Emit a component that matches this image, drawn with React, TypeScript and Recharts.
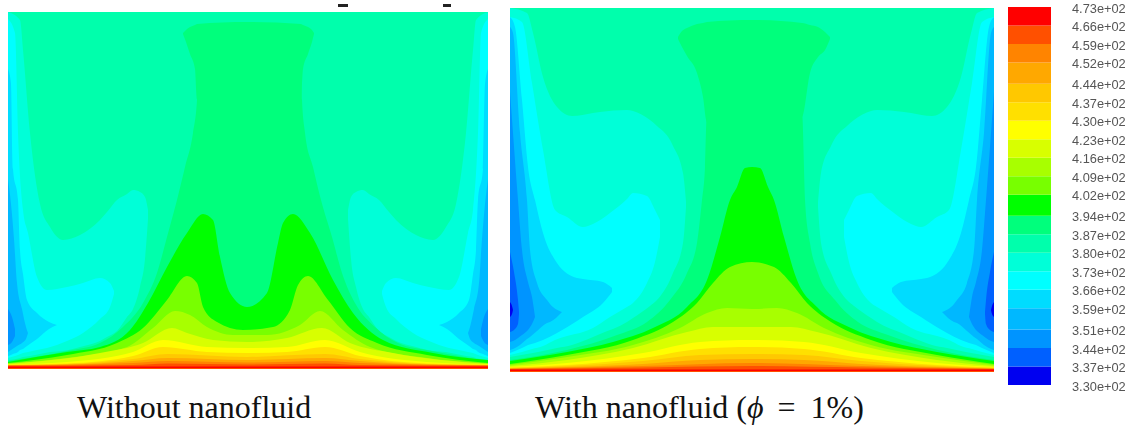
import React from "react";
import { AreaChart, Area, XAxis, YAxis, BarChart, Bar } from "recharts";

// colour bar: temperature ticks, low to high
const tickValues = [330, 337, 344, 351, 359, 366, 373, 380, 387, 394, 402, 409, 416, 423, 430, 437, 444, 452, 459, 466, 473];
const tickLabels = ["3.30e+02", "3.37e+02", "3.44e+02", "3.51e+02", "3.59e+02", "3.66e+02", "3.73e+02", "3.80e+02", "3.87e+02", "3.94e+02", "4.02e+02", "4.09e+02", "4.16e+02", "4.23e+02", "4.30e+02", "4.37e+02", "4.44e+02", "4.52e+02", "4.59e+02", "4.66e+02", "4.73e+02"];
const bandColors = ["#0000f0", "#0060ff", "#0094ff", "#00b8ff", "#00dcff", "#00ffff", "#00ffd8", "#00ffac", "#00ff7c", "#00ff00", "#78ff00", "#a8ff00", "#d8ff00", "#ffff00", "#ffe000", "#ffc800", "#ffa800", "#ff8400", "#ff5000", "#ff0000"];

// left panel, cold pockets: [x, low, high]
const p1All = [[0, 0, 357], [480, 0, 357]];
const p1ColdAL = [[0, 9, 357], [12, 11, 349], [15, 12, 319], [22, 13, 236], [32, 15, 165], [42, 17, 142], [55, 18, 129], [72, 22, 134], [92, 28, 149], [99, 32, 157], [109, 38, 169], [119, 52, 175], [125, 60, 179], [132, 82, 177], [137, 110, 172], [140, 150, 159]];
const p1ColdAR = [[340, 150, 159], [343, 110, 172], [348, 82, 177], [355, 60, 179], [361, 52, 175], [371, 38, 169], [381, 32, 157], [388, 28, 149], [408, 22, 134], [425, 18, 129], [438, 17, 142], [448, 15, 165], [458, 13, 236], [465, 12, 319], [468, 11, 349], [480, 9, 357]];
const p1ColdBL = [[0, 11, 350], [7, 13, 336], [10, 14, 236], [15, 16, 159], [20, 17, 136], [29, 19, 92], [39, 21, 79], [59, 28, 82], [75, 36, 86], [92, 50, 91], [102, 62, 86], [106, 75, 78]];
const p1ColdBR = [[374, 75, 78], [378, 62, 86], [388, 50, 91], [405, 36, 86], [421, 28, 82], [441, 21, 79], [451, 19, 92], [460, 17, 136], [465, 16, 159], [470, 14, 236], [473, 13, 336], [480, 11, 350]];
const p1ColdCL = [[0, 13, 300], [3, 14, 285], [5, 15, 200], [10, 17, 169], [12, 19, 119], [15, 20, 95], [19, 23, 69], [29, 30, 56], [41, 40, 47], [49, 44, 44]];
const p1ColdCR = [[431, 44, 44], [439, 40, 47], [451, 30, 56], [461, 23, 69], [465, 20, 95], [468, 19, 119], [470, 17, 169], [475, 15, 200], [477, 14, 285], [480, 13, 300]];
const p1ColdDL = [[0, 17, 190], [3, 19, 165], [6, 21, 130], [9, 23, 86], [14, 26, 60], [18, 30, 42], [20, 36, 36]];
const p1ColdDR = [[460, 36, 36], [462, 30, 42], [466, 26, 60], [471, 23, 86], [474, 21, 130], [477, 19, 165], [480, 17, 190]];
const p1ColdEL = [[0, 24, 60], [4, 27, 52], [7, 33, 40]];
const p1ColdER = [[473, 33, 40], [476, 27, 52], [480, 24, 60]];

// left panel, warm regions from the floor: [x, high]
const p1Cap = [[175, 335, 336], [178, 327, 339], [182, 315, 342], [187, 300, 344], [189, 270, 345], [240, 270, 347], [293, 270, 345], [295, 300, 344], [300, 315, 342], [304, 327, 339], [306, 335, 336]];
const p1Column = [[0, 8], [59, 18], [92, 26], [115, 42], [135, 66], [149, 96], [159, 132], [169, 169], [177, 202], [185, 236], [189, 269], [190, 300], [293, 300], [294, 269], [297, 236], [305, 202], [313, 169], [324, 132], [334, 96], [347, 66], [367, 42], [390, 26], [424, 18], [480, 8]];
const p1Green = [[0, 7], [59, 17], [92, 22], [122, 39], [140, 66], [159, 102], [179, 136], [195, 155], [205, 149], [212, 112], [222, 76], [239, 62], [259, 76], [270, 126], [275, 146], [285, 155], [302, 136], [325, 89], [345, 56], [375, 29], [425, 16], [480, 9]];
const p1T402 = [[0, 6], [59, 14], [109, 26], [135, 41], [159, 69], [179, 93], [189, 86], [195, 62], [209, 47], [235, 39], [265, 42], [282, 59], [290, 84], [300, 93], [320, 69], [342, 41], [369, 26], [419, 14], [480, 6]];
const p1T409 = [[0, 5.5], [59, 11], [119, 22], [145, 41], [167, 58], [182, 54], [199, 42], [225, 34], [259, 34], [292, 44], [312, 58], [335, 39], [362, 22], [419, 11], [480, 5.5]];
const p1T416 = [[0, 5], [92, 16], [135, 26], [164, 41], [179, 36], [205, 29], [239, 27], [279, 31], [314, 41], [342, 26], [385, 16], [480, 5]];
const p1T423 = [[0, 4.6], [59, 7], [125, 17], [155, 29], [199, 22], [239, 21], [279, 22], [317, 29], [352, 17], [419, 7], [480, 4.6]];
const p1T430 = [[0, 4.3], [59, 5.5], [125, 13], [155, 22], [199, 17], [239, 16], [279, 17], [317, 22], [352, 13], [419, 5.5], [480, 4.3]];
const p1T437 = [[0, 4], [59, 5], [125, 10], [160, 15], [239, 12], [317, 15], [352, 10], [419, 5], [480, 4]];
const p1T444 = [[0, 3.7], [59, 4.5], [125, 8], [160, 11], [239, 9], [317, 11], [352, 8], [419, 4.5], [480, 3.7]];
const p1T452 = [[0, 3.4], [125, 6], [160, 8], [239, 6.5], [317, 8], [352, 6], [480, 3.4]];
const p1T459 = [[0, 3.2], [125, 4], [160, 5.5], [239, 4.5], [317, 5.5], [352, 4], [480, 3.2]];
const p1Floor = [[0, 1, 2.6], [480, 1, 2.6]];

// right panel, cold pockets: [x, low, high]
const p2All = [[0, 0, 364], [484, 0, 364]];
const p2ColdAL = [[0, 15, 364], [17, 18, 359], [23, 19, 339], [33, 21, 295], [47, 24, 265], [62, 27, 256], [83, 35, 259], [90, 38, 260], [117, 50, 262], [123, 54, 261], [140, 66, 252], [147, 72, 246], [160, 92, 232], [163, 99, 226], [173, 129, 199], [176, 165, 170]];
const p2ColdAR = [[308, 165, 170], [311, 129, 199], [321, 99, 226], [324, 92, 232], [337, 72, 246], [344, 66, 252], [361, 54, 261], [367, 50, 262], [394, 38, 260], [401, 35, 259], [422, 27, 256], [437, 24, 265], [451, 21, 295], [461, 19, 339], [467, 18, 359], [484, 15, 364]];
const p2ColdBL = [[0, 17, 355], [12, 20, 350], [22, 23, 289], [33, 26, 222], [45, 32, 162], [57, 36, 155], [73, 40, 145], [83, 44, 148], [100, 55, 159], [117, 65, 173], [123, 69, 179], [137, 89, 176], [145, 110, 162], [150, 135, 152]];
const p2ColdBR = [[334, 135, 152], [339, 110, 162], [347, 89, 176], [361, 69, 179], [367, 65, 173], [384, 55, 159], [401, 44, 148], [411, 40, 145], [427, 36, 155], [439, 32, 162], [451, 26, 222], [462, 23, 289], [472, 20, 350], [484, 17, 355]];
const p2ColdCL = [[0, 19, 355], [5, 21, 345], [12, 24, 272], [18, 27, 205], [25, 29, 172], [33, 32, 139], [47, 39, 109], [67, 51, 94], [73, 55, 93], [93, 69, 90], [102, 80, 84]];
const p2ColdCR = [[382, 80, 84], [391, 69, 90], [411, 55, 93], [417, 51, 94], [437, 39, 109], [451, 32, 139], [459, 29, 172], [466, 27, 205], [472, 24, 272], [479, 21, 345], [484, 19, 355]];
const p2ColdDL = [[0, 22, 345], [3, 23, 339], [10, 27, 239], [17, 33, 172], [20, 35, 122], [27, 41, 89], [37, 49, 72], [40, 50, 68], [52, 60, 60]];
const p2ColdDR = [[432, 60, 60], [444, 50, 68], [447, 49, 72], [457, 41, 89], [464, 35, 122], [467, 33, 172], [474, 27, 239], [481, 23, 339], [484, 22, 345]];
const p2ColdEL = [[0, 30, 280], [3, 31, 239], [8, 34, 172], [12, 37, 122], [18, 42, 90], [22, 48, 75], [25, 55, 55]];
const p2ColdER = [[459, 55, 55], [462, 48, 75], [466, 42, 90], [472, 37, 122], [476, 34, 172], [481, 31, 239], [484, 30, 280]];
const p2ColdFL = [[0, 40, 120], [4, 42, 100], [8, 48, 72], [9, 58, 60]];
const p2ColdFR = [[475, 58, 60], [476, 48, 72], [480, 42, 100], [484, 40, 120]];
const p2ColdGL = [[0, 55, 70], [2, 58, 66], [3, 62, 62]];
const p2ColdGR = [[481, 62, 62], [482, 58, 66], [484, 55, 70]];

// right panel, warm regions
const p2Cap = [[168, 333, 335], [172, 325, 341], [177, 316, 344], [187, 299, 348], [193, 275, 349], [197, 250, 350], [243, 250, 352], [292, 255, 349], [300, 299, 347], [308, 315, 345], [315, 322, 340], [320, 333, 335]];
const p2Column = [[0, 12], [57, 22], [107, 37], [137, 50], [160, 72], [177, 99], [187, 129], [192, 172], [195, 205], [197, 260], [292, 260], [295, 172], [300, 129], [308, 99], [325, 72], [348, 50], [378, 37], [428, 22], [484, 12]];
const p2Green = [[0, 11], [57, 20], [103, 30], [143, 44], [177, 65], [197, 92], [210, 135], [220, 172], [227, 185], [235, 204], [242, 205], [250, 204], [258, 185], [264, 172], [274, 135], [287, 92], [307, 65], [341, 44], [381, 30], [427, 20], [484, 11]];
const p2T402 = [[0, 8], [57, 17], [123, 32], [163, 50], [187, 69], [203, 89], [220, 105], [242, 110], [264, 105], [281, 89], [297, 69], [321, 50], [361, 32], [427, 17], [484, 8]];
const p2T409 = [[0, 7], [57, 15], [123, 27], [170, 44], [197, 59], [217, 64], [242, 63], [267, 64], [287, 59], [314, 44], [361, 27], [427, 15], [484, 7]];
const p2T416 = [[0, 6], [57, 12], [123, 24], [177, 40], [203, 45], [242, 45], [281, 45], [307, 40], [361, 24], [427, 12], [484, 6]];
const p2T423 = [[0, 5], [57, 9], [133, 19], [190, 30], [242, 32], [294, 30], [351, 19], [427, 9], [484, 5]];
const p2T430 = [[0, 4.5], [57, 7], [133, 14], [190, 23], [242, 25], [294, 23], [351, 14], [427, 7], [484, 4.5]];
const p2T437 = [[0, 4], [57, 6], [133, 11], [190, 17], [242, 18], [294, 17], [351, 11], [427, 6], [484, 4]];
const p2T444 = [[0, 3.6], [57, 5], [133, 8], [190, 12], [242, 13], [294, 12], [351, 8], [427, 5], [484, 3.6]];
const p2T452 = [[0, 3.2], [133, 6], [242, 9], [351, 6], [484, 3.2]];
const p2T459 = [[0, 3], [133, 4.5], [242, 6], [351, 4.5], [484, 3]];
const p2Floor = [[0, 1, 2.6], [484, 1, 2.6]];

// paint order, each entry is [rows, colour band]
const p1Layers: [number[][], number][] = [
  [p1All, 7], [p1ColdAL, 6], [p1ColdAR, 6], [p1ColdBL, 5], [p1ColdBR, 5], [p1ColdCL, 4], [p1ColdCR, 4],
  [p1ColdDL, 3], [p1ColdDR, 3], [p1ColdEL, 2], [p1ColdER, 2], [p1Cap, 8], [p1Column, 8], [p1Green, 9],
  [p1T402, 10], [p1T409, 11], [p1T416, 12], [p1T423, 13], [p1T430, 14], [p1T437, 15], [p1T444, 16],
  [p1T452, 17], [p1T459, 18], [p1Floor, 19],
];
const p2Layers: [number[][], number][] = [
  [p2All, 7], [p2ColdAL, 6], [p2ColdAR, 6], [p2ColdBL, 5], [p2ColdBR, 5], [p2ColdCL, 4], [p2ColdCR, 4],
  [p2ColdDL, 3], [p2ColdDR, 3], [p2ColdEL, 2], [p2ColdER, 2], [p2ColdFL, 1], [p2ColdFR, 1], [p2ColdGL, 0], [p2ColdGR, 0],
  [p2Cap, 8], [p2Column, 8], [p2Green, 9], [p2T402, 10], [p2T409, 11], [p2T416, 12], [p2T423, 13], [p2T430, 14],
  [p2T437, 15], [p2T444, 16], [p2T452, 17], [p2T459, 18], [p2Floor, 19],
];

const toRows = (rows: number[][]) =>
  rows.map((r) => ({ x: r[0], band: r.length === 3 ? [r[1], r[2]] : [0, r[1]] }));

// the stack starts at the scale minimum, the rest are the band widths
const colorbarRow: Record<string, number | string> = { name: "T", base: tickValues[0] };
bandColors.forEach((_, i) => {
  colorbarRow["b" + i] = tickValues[i + 1] - tickValues[i];
});

const Contour = ({ layers, w, h, left, top }: any) => (
  <div style={{ position: "absolute", left, top, width: w, height: h, filter: "blur(0.6px)" }}>
    <AreaChart width={w} height={h} margin={{ top: 0, right: 0, bottom: 0, left: 0 }}>
      <XAxis type="number" dataKey="x" domain={[0, w]} hide allowDataOverflow />
      <YAxis type="number" domain={[0, h]} hide allowDataOverflow />
      {layers.map(([rows, band]: any, i: number) => (
        <Area
          key={i}
          data={toRows(rows)}
          dataKey="band"
          type="monotoneX"
          stroke="none"
          fill={bandColors[band]}
          fillOpacity={1}
          dot={false}
          activeDot={false}
          isAnimationActive={false}
        />
      ))}
    </AreaChart>
  </div>
);

const captionStyle: React.CSSProperties = {
  position: "absolute",
  fontFamily: "'Liberation Serif', serif",
  fontSize: 32,
  color: "#111",
  whiteSpace: "nowrap",
  lineHeight: "36px",
};

export default function App() {
  return (
    <div style={{ position: "absolute", left: 0, top: 0, width: 1132, height: 427, background: "#fff", overflow: "hidden" }}>
      <div style={{ position: "absolute", left: 338, top: 4, width: 10, height: 2.5, background: "#222", filter: "blur(0.5px)" }} />
      <div style={{ position: "absolute", left: 443, top: 4, width: 8, height: 2.5, background: "#222", filter: "blur(0.5px)" }} />
      <Contour layers={p1Layers} w={480} h={357} left={8} top={12} />
      <Contour layers={p2Layers} w={484} h={364} left={510} top={8} />
      <div style={{ position: "absolute", left: 1008, top: 0, filter: "blur(0.3px)" }}>
        <BarChart
          width={124}
          height={427}
          data={[colorbarRow]}
          margin={{ top: 7, right: 0, bottom: 42, left: 0 }}
          barCategoryGap={0}
        >
          <XAxis dataKey="name" hide />
          <YAxis
            orientation="right"
            type="number"
            width={81}
            domain={[330, 473]}
            allowDataOverflow
            ticks={tickValues}
            interval={0}
            axisLine={false}
            tickLine={false}
            tickMargin={15}
            tickFormatter={(v: number) => tickLabels[tickValues.indexOf(v)]}
            tick={{ fontSize: 12.8, fill: "#555", fontFamily: "'Liberation Sans', Arial, sans-serif", dy: 1 }}
          />
          <Bar dataKey="base" stackId="t" fill="none" isAnimationActive={false} />
          {bandColors.map((c, i) => (
            <Bar key={i} dataKey={"b" + i} stackId="t" fill={c} isAnimationActive={false} />
          ))}
        </BarChart>
      </div>
      <div style={{ ...captionStyle, left: 77, top: 389 }}>Without nanofluid</div>
      <div style={{ ...captionStyle, left: 535, top: 389 }}>
        With nanofluid (<span style={{ fontStyle: "italic" }}>ϕ</span>
        <span style={{ marginLeft: 14 }}>=</span>
        <span style={{ marginLeft: 15 }}>1%)</span>
      </div>
    </div>
  );
}
